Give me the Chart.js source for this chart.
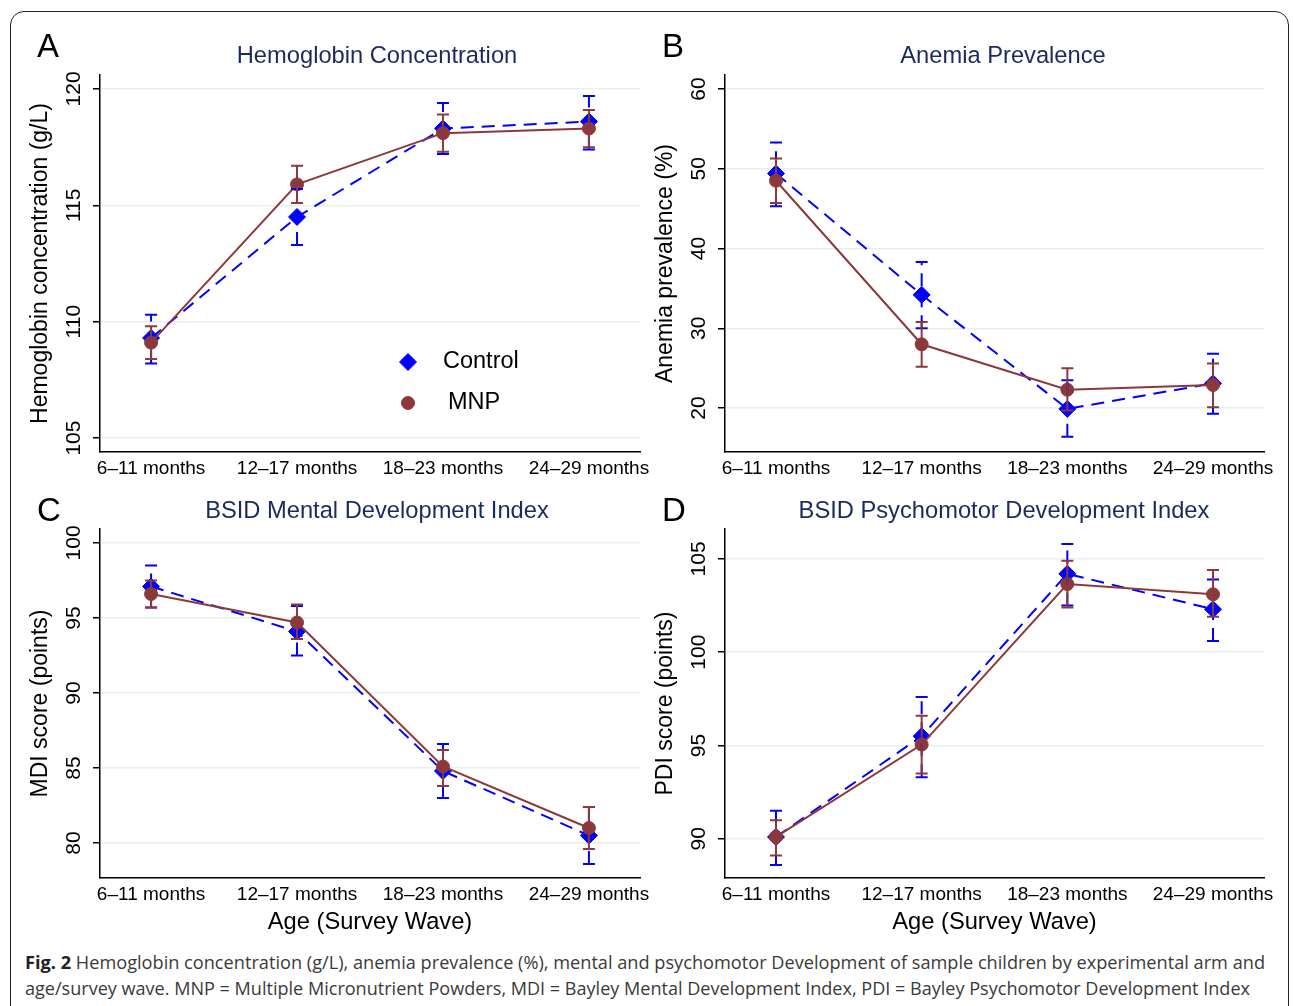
<!DOCTYPE html>
<html>
<head>
<meta charset="utf-8">
<script src="https://cdn.jsdelivr.net/npm/chart.js@4.4.0/dist/chart.umd.min.js"></script>
<style>
  body { margin: 0; width: 1293px; height: 1006px; overflow: hidden; background: #fff; position: relative;
         font-family: "Liberation Sans", Arial, sans-serif; }
  .frame { position: absolute; left: 10px; top: 11px; width: 1277px; height: 1060px;
           border: 1.5px solid #222; border-radius: 14px; }
  canvas { position: absolute; }
  .letter { position: absolute; font-size: 33px; line-height: 33px; color: #000; }
  .ptitle { position: absolute; font-size: 23.7px; line-height: 24px; color: #1b2a5c; white-space: nowrap;
            transform: translateX(-50%); }
  .cap { position: absolute; left: 25px; font-family: "Open Sans", sans-serif; font-size: 17.5px; color: #3a3a3a;
         white-space: nowrap; transform-origin: 0 0; }
  .cap b { color: #222; }
</style>
</head>
<body>
<div class="frame"></div>

<canvas id="chartA" width="670" height="480" style="left:0;top:0"></canvas>
<canvas id="chartB" width="668" height="480" style="left:625px;top:0"></canvas>
<canvas id="chartC" width="670" height="490" style="left:0;top:455px"></canvas>
<canvas id="chartD" width="668" height="490" style="left:625px;top:455px"></canvas>

<div class="letter" style="left:37px;top:29px">A</div>
<div class="letter" style="left:662px;top:29px">B</div>
<div class="letter" style="left:37px;top:493px">C</div>
<div class="letter" style="left:662px;top:493px">D</div>

<div class="ptitle" style="left:377px;top:43px">Hemoglobin Concentration</div>
<div class="ptitle" style="left:1003px;top:43px">Anemia Prevalence</div>
<div class="ptitle" style="left:377px;top:498px">BSID Mental Development Index</div>
<div class="ptitle" style="left:1004px;top:498px">BSID Psychomotor Development Index</div>

<div class="cap" id="cap1" data-w="1240" style="top:950px"><b>Fig. 2</b> Hemoglobin concentration (g/L), anemia prevalence (%), mental and psychomotor Development of sample children by experimental arm and</div>
<div class="cap" id="cap2" data-w="1225" style="top:976px">age/survey wave. MNP = Multiple Micronutrient Powders, MDI = Bayley Mental Development Index, PDI = Bayley Psychomotor Development Index</div>

<script>
// categories (survey waves)
const categories = ['6–11 months', '12–17 months', '18–23 months', '24–29 months'];

// A: hemoglobin concentration (g/L)
const hbControl   = [109.3, 114.5, 118.3, 118.6];
const hbControlLo = [108.2, 113.3, 117.2, 117.4];
const hbControlHi = [110.3, 115.7, 119.4, 119.7];
const hbMnp       = [109.1, 115.9, 118.1, 118.3];
const hbMnpLo     = [108.4, 115.1, 117.3, 117.5];
const hbMnpHi     = [109.8, 116.7, 118.9, 119.1];
const hbTicks     = [105, 110, 115, 120];
const hbRange     = [104.4, 120.6];

// B: anemia prevalence (%)
const anControl   = [49.4, 34.2, 19.9, 23.1];
const anControlLo = [45.3, 30.0, 16.4, 19.3];
const anControlHi = [53.3, 38.3, 23.5, 26.8];
const anMnp       = [48.5, 28.0, 22.3, 22.9];
const anMnpLo     = [45.7, 25.2, 19.7, 20.1];
const anMnpHi     = [51.3, 30.8, 25.0, 25.6];
const anTicks     = [20, 30, 40, 50, 60];
const anRange     = [14.5, 61.75];

// C: MDI score
const mdiControl   = [97.1, 94.1, 84.8, 80.5];
const mdiControlLo = [95.7, 92.5, 83.0, 78.6];
const mdiControlHi = [98.5, 95.8, 86.6, 82.4];
const mdiMnp       = [96.6, 94.7, 85.1, 81.0];
const mdiMnpLo     = [95.7, 93.6, 83.8, 79.6];
const mdiMnpHi     = [97.5, 95.9, 86.2, 82.4];
const mdiTicks     = [80, 85, 90, 95, 100];
const mdiRange     = [77.67, 100.93];

// D: PDI score
const pdiControl   = [90.1, 95.5, 104.2, 102.3];
const pdiControlLo = [88.6, 93.3, 102.5, 100.6];
const pdiControlHi = [91.5, 97.6, 105.8, 103.9];
const pdiMnp       = [90.1, 95.05, 103.65, 103.1];
const pdiMnpLo     = [89.1, 93.5, 102.4, 101.9];
const pdiMnpHi     = [91.0, 96.6, 104.9, 104.4];
const pdiTicks     = [90, 95, 100, 105];
const pdiRange     = [87.9, 106.6];

const BLUE = '#0000ff';
const MAROON = '#8c393c';
const FONT = '"Liberation Sans", Arial, sans-serif';

// vertical confidence interval bars with caps
const errorBars = {
  id: 'errorBars',
  afterDatasetsDraw(chart) {
    const ctx = chart.ctx;
    const x = chart.scales.x, y = chart.scales.y;
    // draw control first, MNP on top
    [...chart.data.datasets].sort((a, b) => b.order - a.order).forEach(ds => {
      ctx.save();
      ctx.strokeStyle = ds.borderColor;
      ctx.lineWidth = 2;
      ds.lo.forEach((lo, i) => {
        const px = x.getPixelForValue(i);
        const pLo = y.getPixelForValue(lo);
        const pHi = y.getPixelForValue(ds.hi[i]);
        ctx.setLineDash(ds.borderDash || []);
        ctx.beginPath();
        ctx.moveTo(px, pLo);
        ctx.lineTo(px, pHi);
        ctx.stroke();
        ctx.setLineDash([]);
        ctx.beginPath();
        ctx.moveTo(px - 6, pLo); ctx.lineTo(px + 6, pLo);
        ctx.moveTo(px - 6, pHi); ctx.lineTo(px + 6, pHi);
        ctx.stroke();
      });
      ctx.restore();
    });
  }
};

// Stata-style vertical (rotated) y tick labels
const rotatedYLabels = {
  id: 'rotatedYLabels',
  afterDraw(chart) {
    const ctx = chart.ctx;
    const y = chart.scales.y;
    ctx.save();
    ctx.font = '21px ' + FONT;
    ctx.fillStyle = '#000';
    ctx.textAlign = 'center';
    ctx.textBaseline = 'alphabetic';
    y.ticks.forEach(t => {
      const py = y.getPixelForValue(t.value);
      ctx.save();
      ctx.translate(y.right - 20, py);
      ctx.rotate(-Math.PI / 2);
      ctx.fillText(String(t.value), 0, 0);
      ctx.restore();
    });
    ctx.restore();
  }
};

// legend inside panel A
const insideLegend = {
  id: 'insideLegend',
  afterDraw(chart, args, opts) {
    if (!opts.show) return;
    const ctx = chart.ctx;
    const rows = [
      { ds: chart.data.datasets[0], mx: 408, my: 362, tx: 443 },
      { ds: chart.data.datasets[1], mx: 408, my: 403, tx: 448 }
    ];
    ctx.save();
    ctx.font = '23.5px ' + FONT;
    ctx.textBaseline = 'middle';
    rows.forEach(r => {
      ctx.fillStyle = r.ds.backgroundColor;
      ctx.strokeStyle = r.ds.borderColor;
      ctx.lineWidth = 1;
      Chart.helpers.drawPoint(ctx, { pointStyle: r.ds.pointStyle, radius: r.ds.pointRadius, borderWidth: 1 }, r.mx, r.my);
      ctx.fillStyle = '#000';
      ctx.fillText(r.ds.label, r.tx, r.my);
    });
    ctx.restore();
  }
};

function makePanel(id, p) {
  const pts = arr => arr.map((v, i) => ({ x: i, y: v }));
  const bottom = p.xTitle ? 67 : 28;
  return new Chart(document.getElementById(id), {
    type: 'line',
    data: {
      datasets: [
        {
          label: 'Control', data: pts(p.ctrl), lo: p.ctrlLo, hi: p.ctrlHi,
          borderColor: BLUE, backgroundColor: BLUE, borderWidth: 2, borderDash: [13, 8],
          pointStyle: 'rectRot', pointRadius: 8.5, pointBorderWidth: 1, order: 2
        },
        {
          label: 'MNP', data: pts(p.mnp), lo: p.mnpLo, hi: p.mnpHi,
          borderColor: MAROON, backgroundColor: MAROON, borderWidth: 2,
          pointStyle: 'circle', pointRadius: 6.5, pointBorderWidth: 1, order: 1
        }
      ]
    },
    options: {
      responsive: false,
      animation: false,
      layout: { padding: { top: p.top, right: p.right, left: 0, bottom: 0 } },
      plugins: {
        legend: { display: false },
        tooltip: { enabled: false },
        insideLegend: { show: !!p.legend }
      },
      scales: {
        x: {
          type: 'linear', min: -0.35, max: 3.35,
          afterBuildTicks: s => { s.ticks = categories.map((c, i) => ({ value: i })); },
          afterFit: s => { s.height = bottom; },
          grid: { display: false, drawTicks: false },
          border: { display: true, color: '#000', width: 1.5 },
          ticks: {
            padding: 5, color: '#000', font: { family: FONT, size: 19 },
            maxRotation: 0, autoSkip: false,
            callback: v => categories[v]
          },
          title: {
            display: !!p.xTitle, text: p.xTitle || '', color: '#000',
            font: { family: FONT, size: 23.7 }, padding: { top: 0, bottom: 8 }
          }
        },
        y: {
          min: p.range[0], max: p.range[1],
          afterBuildTicks: s => { s.ticks = p.ticks.map(v => ({ value: v })); },
          afterFit: s => { s.width = 100; },
          grid: { color: '#e6eff1', lineWidth: 1.5, tickColor: '#000', tickLength: 7, drawTicks: true },
          border: { display: true, color: '#000', width: 1.5 },
          ticks: { display: false },
          title: {
            display: true, text: p.yTitle, color: '#000',
            font: { family: FONT, size: 23 }, padding: { top: 27, bottom: 0 }
          }
        }
      }
    },
    plugins: [errorBars, rotatedYLabels, insideLegend]
  });
}

makePanel('chartA', {
  ctrl: hbControl, ctrlLo: hbControlLo, ctrlHi: hbControlHi,
  mnp: hbMnp, mnpLo: hbMnpLo, mnpHi: hbMnpHi,
  ticks: hbTicks, range: hbRange, yTitle: 'Hemoglobin concentration (g/L)',
  top: 75, right: 30, legend: true
});
makePanel('chartB', {
  ctrl: anControl, ctrlLo: anControlLo, ctrlHi: anControlHi,
  mnp: anMnp, mnpLo: anMnpLo, mnpHi: anMnpHi,
  ticks: anTicks, range: anRange, yTitle: 'Anemia prevalence (%)',
  top: 75, right: 29
});
makePanel('chartC', {
  ctrl: mdiControl, ctrlLo: mdiControlLo, ctrlHi: mdiControlHi,
  mnp: mdiMnp, mnpLo: mdiMnpLo, mnpHi: mdiMnpHi,
  ticks: mdiTicks, range: mdiRange, yTitle: 'MDI score (points)',
  top: 74, right: 30, xTitle: 'Age (Survey Wave)'
});
makePanel('chartD', {
  ctrl: pdiControl, ctrlLo: pdiControlLo, ctrlHi: pdiControlHi,
  mnp: pdiMnp, mnpLo: pdiMnpLo, mnpHi: pdiMnpHi,
  ticks: pdiTicks, range: pdiRange, yTitle: 'PDI score (points)',
  top: 74, right: 29, xTitle: 'Age (Survey Wave)'
});

// squeeze caption lines to the width they take in the figure
document.querySelectorAll('.cap').forEach(el => {
  const w = el.getBoundingClientRect().width;
  el.style.transform = 'scaleX(' + (Number(el.dataset.w) / w) + ')';
});
</script>
</body>
</html>
